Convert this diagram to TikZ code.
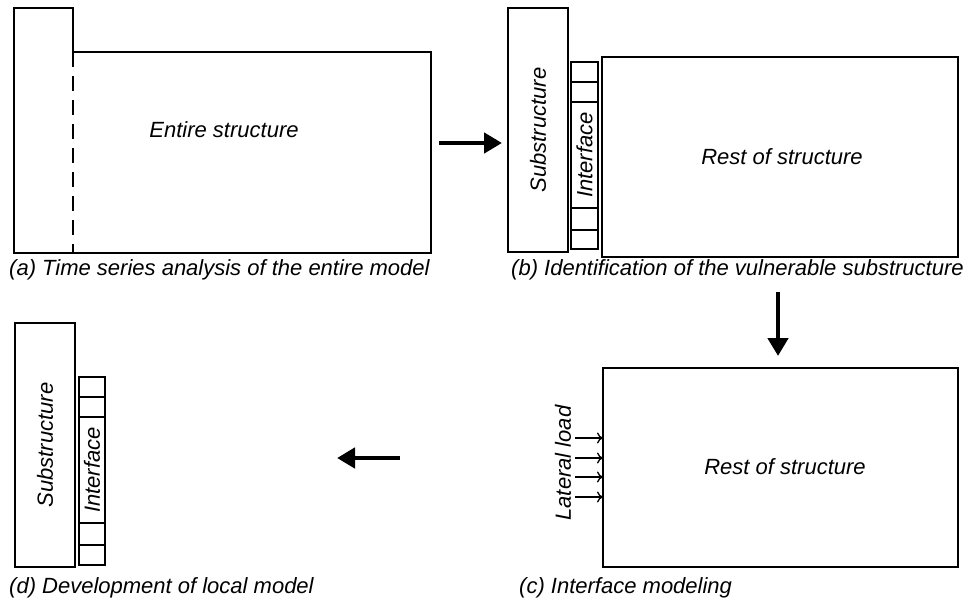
\documentclass[tikz,border=0pt]{standalone}
\usepackage{fontspec}
\setmainfont{Liberation Sans}
\usetikzlibrary{arrows.meta,calc}
\begin{document}
\begin{tikzpicture}[x=1pt,y=-1pt,
  box/.style={draw,line width=1.4pt,inner sep=0pt,outer sep=0pt,anchor=north west},
  lbl/.style={font=\fontsize{22}{25}\selectfont\itshape,inner sep=0pt},
  captext/.style={lbl,anchor=west},
  cell/.style={line width=1.2pt},
  bigarrow/.style={line width=4.5pt,-{Triangle[length=18pt,width=20pt]}},
  loadarrow/.style={line width=1.3pt,-{To[length=6pt,width=11pt]}}]
\useasboundingbox (0,0) rectangle (973,602);
% (a)
\draw[line width=1.4pt] (14,8) -- (73,8) -- (73,52) -- (431,52) -- (431,253) -- (14,253) -- cycle;
\draw[line width=1.4pt, dash pattern=on 15pt off 9pt] (73,52) -- (73,253);
\node[lbl] (entire) at (224,130) {Entire structure};
\node[captext] (capA) at (9,270) {(a) Time series analysis of the entire model};
% arrow a->b
\coordinate (ar1) at (439,143);
\coordinate (ar2) at (502,143);
\draw[bigarrow] (ar1) -- (ar2);
% (b)
\node[box,minimum width=60,minimum height=244] (subB) at (508,8) {};
\node[lbl,rotate=90] (subBt) at (subB.center) {Substructure};
\node[box,minimum width=27,minimum height=187] (ifB) at (571,62) {};
\foreach \yy in {82,102,208,230} \draw[cell] (571,\yy) -- (598,\yy);
\node[lbl,rotate=90] (ifBt) at (584.5,155) {Interface};
\node[box,minimum width=356,minimum height=200] (restB) at (602,57) {};
\node[lbl] (restBt) at (782,157) {Rest of structure};
\node[captext] (capB) at (511,270) {(b) Identification of the vulnerable substructure};
% arrow b->c
\coordinate (ad1) at (778,292);
\coordinate (ad2) at (778,356);
\draw[bigarrow] (ad1) -- (ad2);
% (c)
\node[box,minimum width=355,minimum height=199] (restC) at (603,368) {};
\node[lbl] (restCt) at (785,467) {Rest of structure};
\node[lbl,rotate=90] (lat) at (563,463) {Lateral load};
\foreach \yy [count=\i] in {438,458,477,497} {
  \coordinate (ls\i) at (575,\yy);
  \draw[loadarrow] (ls\i) -- (restC.west |- ls\i);
}
\node[captext] (capC) at (519,588) {(c) Interface modeling};
% arrow c->d
\coordinate (al1) at (400,458);
\coordinate (al2) at (337,458);
\draw[bigarrow] (al1) -- (al2);
% (d)
\node[box,minimum width=60,minimum height=244] (subD) at (15,323) {};
\node[lbl,rotate=90] (subDt) at (subD.center) {Substructure};
\node[box,minimum width=26,minimum height=188] (ifD) at (79,377) {};
\foreach \yy in {397,417,523,545} \draw[cell] (79,\yy) -- (105,\yy);
\node[lbl,rotate=90] (ifDt) at (92,470) {Interface};
\node[captext] (capD) at (9,588) {(d) Development of local model};
\end{tikzpicture}
\end{document}
